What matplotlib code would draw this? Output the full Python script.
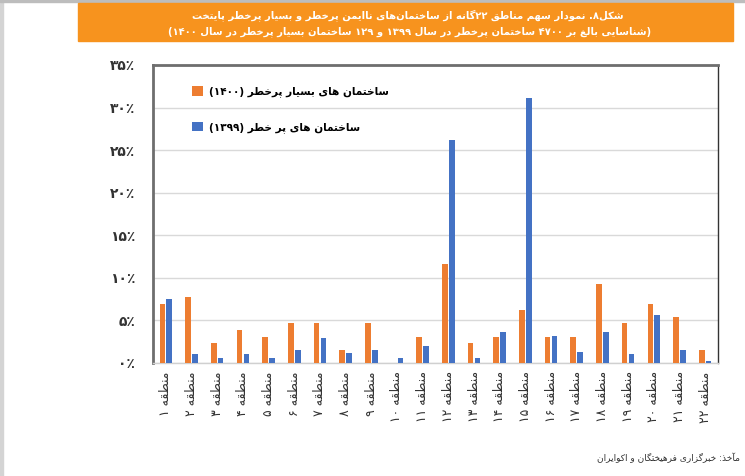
import re
import numpy as np
import matplotlib
matplotlib.use('Agg')
import matplotlib.pyplot as plt
from matplotlib.patches import Rectangle

# share of each of the 22 districts (percent)
regions = ['منطقه ' + d for d in ['۱', '۲', '۳', '۴', '۵', '۶', '۷', '۸', '۹', '۱۰', '۱۱',
                                  '۱۲', '۱۳', '۱۴', '۱۵', '۱۶', '۱۷', '۱۸', '۱۹', '۲۰', '۲۱', '۲۲']]
very_high_risk_1400 = [6.98, 7.75, 2.33, 3.88, 3.10, 4.65, 4.65, 1.55, 4.65, 0.0, 3.10,
                       11.63, 2.33, 3.10, 6.20, 3.10, 3.10, 9.30, 4.65, 6.98, 5.43, 1.55]
high_risk_1399 = [7.5, 1.1, 0.6, 1.05, 0.6, 1.5, 2.9, 1.2, 1.5, 0.55, 2.0,
                  26.2, 0.6, 3.6, 31.1, 3.2, 1.3, 3.6, 1.0, 5.6, 1.55, 0.25]
y_ticks = [0, 5, 10, 15, 20, 25, 30, 35]
y_tick_labels = ['۰٪', '۵٪', '۱۰٪', '۱۵٪', '۲۰٪', '۲۵٪', '۳۰٪', '۳۵٪']

title_1 = 'شکل۸. نمودار سهم مناطق ۲۲گانه از ساختمان\u200cهای ناایمن پرخطر و بسیار پرخطر پایتخت'
title_2 = '(شناسایی بالغ بر ۴۷۰۰ ساختمان پرخطر در سال ۱۳۹۹ و ۱۲۹ ساختمان بسیار پرخطر در سال ۱۴۰۰)'
label_1400 = 'ساختمان های بسیار پرخطر (۱۴۰۰)'
label_1399 = 'ساختمان های پر خطر (۱۳۹۹)'
source = 'مآخذ: خبرگزاری فرهیختگان و اکوایران'

# matplotlib has no arabic shaping, so do it by hand: (isolated, final, initial, medial)
FORMS = {
    'ا': ('\uFE8D', '\uFE8E', None, None),
    'آ': ('\uFE81', '\uFE82', None, None),
    'ب': ('\uFE8F', '\uFE90', '\uFE91', '\uFE92'),
    'پ': ('\uFB56', '\uFB57', '\uFB58', '\uFB59'),
    'ت': ('\uFE95', '\uFE96', '\uFE97', '\uFE98'),
    'خ': ('\uFEA5', '\uFEA6', '\uFEA7', '\uFEA8'),
    'د': ('\uFEA9', '\uFEAA', None, None),
    'ذ': ('\uFEAB', '\uFEAC', None, None),
    'ر': ('\uFEAD', '\uFEAE', None, None),
    'ز': ('\uFEAF', '\uFEB0', None, None),
    'س': ('\uFEB1', '\uFEB2', '\uFEB3', '\uFEB4'),
    'ش': ('\uFEB5', '\uFEB6', '\uFEB7', '\uFEB8'),
    'ط': ('\uFEC1', '\uFEC2', '\uFEC3', '\uFEC4'),
    'غ': ('\uFECD', '\uFECE', '\uFECF', '\uFED0'),
    'ف': ('\uFED1', '\uFED2', '\uFED3', '\uFED4'),
    'ق': ('\uFED5', '\uFED6', '\uFED7', '\uFED8'),
    'ک': ('\uFB8E', '\uFB8F', '\uFB90', '\uFB91'),
    'گ': ('\uFB92', '\uFB93', '\uFB94', '\uFB95'),
    'ل': ('\uFEDD', '\uFEDE', '\uFEDF', '\uFEE0'),
    'م': ('\uFEE1', '\uFEE2', '\uFEE3', '\uFEE4'),
    'ن': ('\uFEE5', '\uFEE6', '\uFEE7', '\uFEE8'),
    'ه': ('\uFEE9', '\uFEEA', '\uFEEB', '\uFEEC'),
    'و': ('\uFEED', '\uFEEE', None, None),
    'ی': ('\uFBFC', '\uFBFD', '\uFBFE', '\uFBFF'),
}
MIRROR = {'(': ')', ')': '('}


def fa(text):
    out = []
    for i, c in enumerate(text):
        if c not in FORMS:
            if c != '\u200c':
                out.append(c)
            continue
        prev = text[i - 1] if i > 0 else None
        nxt = text[i + 1] if i + 1 < len(text) else None
        join_prev = prev in FORMS and FORMS[prev][2] is not None
        join_next = FORMS[c][2] is not None and nxt in FORMS
        iso, fin, ini, med = FORMS[c]
        if join_prev and join_next:
            out.append(med)
        elif join_prev:
            out.append(fin)
        elif join_next:
            out.append(ini)
        else:
            out.append(iso)
    tokens = re.findall(r'[0-9\u06F0-\u06F9]+|.', ''.join(out))
    return ''.join(MIRROR.get(t, t) for t in reversed(tokens))


plt.rcParams['font.family'] = ['DejaVu Sans']

fig = plt.figure(figsize=(7.45, 4.76), dpi=100)
W, H = 745, 476

# page decoration
fig.patches.append(Rectangle((0, 0), 3.3 / W, 1, transform=fig.transFigure,
                             color='#d4d4d4', zorder=0))
fig.patches.append(Rectangle((0, 1 - 2 / H), 1, 2 / H, transform=fig.transFigure,
                             color='#bdbdbd', zorder=0))
fig.patches.append(Rectangle((78 / W, 1 - 41 / H), (733 - 78) / W, 38 / H,
                             transform=fig.transFigure, color='#F7931E', zorder=1))
fig.text(408 / W, 1 - 15 / H, fa(title_1), ha='center', va='center', color='white',
         fontsize=7.2, fontweight='bold')
fig.text(410 / W, 1 - 32 / H, fa(title_2), ha='center', va='center', color='white',
         fontsize=7.2, fontweight='bold')

ax = fig.add_axes([153 / W, 1 - 363 / H, (718 - 153) / W, (363 - 65) / H])
x = np.arange(len(regions))
w = 0.22
b1 = ax.bar(x - 0.135, very_high_risk_1400, w, color='#ED7D31', zorder=3)
b2 = ax.bar(x + 0.135, high_risk_1399, w, color='#4472C4', zorder=3)

ax.set_xlim(-0.5, len(regions) - 0.5)
ax.set_ylim(0, 35)
ax.set_yticks(y_ticks)
ax.set_yticklabels(y_tick_labels, fontsize=10, fontweight='bold', color='#333333')
ax.set_xticks(x)
ax.set_xticklabels([fa(r) for r in regions], rotation=90, fontsize=9, color='#333333')
ax.tick_params(axis='both', length=0)
ax.tick_params(axis='y', pad=13)
ax.tick_params(axis='x', pad=6)
ax.yaxis.grid(True, color='#d9d9d9', lw=1)
ax.set_axisbelow(True)

ax.spines['left'].set_color('#6e6e6e')
ax.spines['left'].set_linewidth(2)
ax.spines['top'].set_color('#6e6e6e')
ax.spines['top'].set_linewidth(2)
ax.spines['right'].set_color('#333333')
ax.spines['right'].set_linewidth(1)
ax.spines['bottom'].set_color('#d0d0d0')
ax.spines['bottom'].set_linewidth(1)

ax.legend([b1, b2], [fa(label_1400), fa(label_1399)], loc='upper left',
          bbox_to_anchor=(192 / W, 1 - 86 / H), bbox_transform=fig.transFigure,
          frameon=False, handlelength=1.05, handleheight=1.05,
          handletextpad=0.6, labelspacing=2.3, borderpad=0, borderaxespad=0,
          prop={'weight': 'bold', 'size': 7.6})

fig.text(740 / W, 1 - 458 / H, fa(source), ha='right', va='center', fontsize=6.5,
         color='#333333')

fig.savefig('out.png', dpi=100)
